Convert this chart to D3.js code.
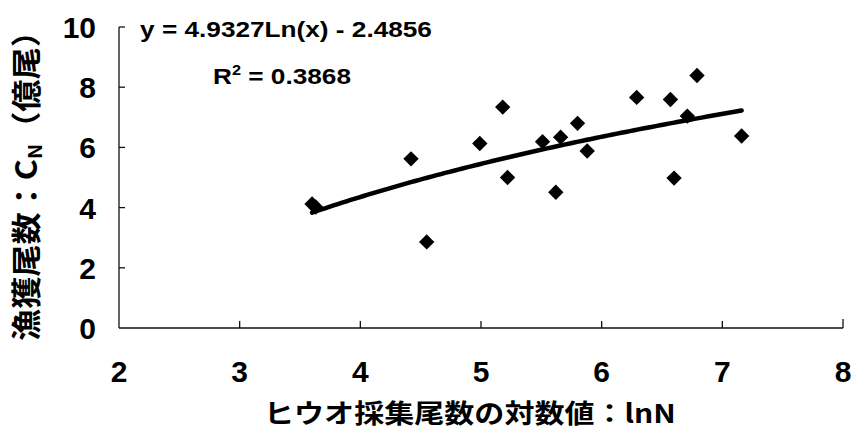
<!DOCTYPE html>
<html><head><meta charset="utf-8">
<script src="https://cdn.jsdelivr.net/npm/d3@7"></script>
<style>
html,body{margin:0;padding:0;background:#fff;}
svg{display:block;}
.num{font-family:"Liberation Sans",Arial,sans-serif;font-weight:bold;fill:#000;}
.jp{font-family:"Noto Sans CJK JP","Noto Sans",sans-serif;font-weight:bold;fill:#000;}
</style>
</head><body>
<svg id="chart" width="852" height="431"></svg>
<script>
// ---- data ----
const lnN = [3.60, 3.63, 4.42, 4.55, 4.99, 5.18, 5.22, 5.51, 5.62, 5.66, 5.80, 5.88, 6.29, 6.57, 6.60, 6.71, 6.79, 7.16];
const catch_ = [4.12, 4.02, 5.62, 2.86, 6.13, 7.34, 5.00, 6.19, 4.51, 6.34, 6.80, 5.88, 7.66, 7.59, 4.98, 7.04, 8.39, 6.38];
const xTicks = [2, 3, 4, 5, 6, 7, 8];
const yTicks = [0, 2, 4, 6, 8, 10];
const trendCoef = [4.9327, -2.4856];   // y = a*ln(x) + b
const eqText = "y = 4.9327Ln(x) - 2.4856";
const r2Text = " = 0.3868";
const xTitle = "ヒウオ採集尾数の対数値：lnN";

const svg = d3.select("#chart");
const x = d3.scaleLinear().domain([2, 8]).range([119, 843]);
const y = d3.scaleLinear().domain([0, 10]).range([328, 27]);

function fit(sel, len) {
  const w = sel.node().getComputedTextLength();
  return len / w;
}

// axes
const ax = svg.append("g").attr("stroke", "#111").attr("stroke-width", 1.3).attr("fill", "none");
ax.append("line").attr("x1", x(2)).attr("x2", x(2)).attr("y1", y(10)).attr("y2", y(0));
ax.append("line").attr("x1", x(2)).attr("x2", x(8)).attr("y1", y(0)).attr("y2", y(0));
yTicks.filter(t => t > 0).forEach(t => {
  ax.append("line").attr("x1", x(2)).attr("x2", x(2) + 6).attr("y1", y(t)).attr("y2", y(t));
});
xTicks.filter(t => t > 2).forEach(t => {
  ax.append("line").attr("x1", x(t)).attr("x2", x(t)).attr("y1", y(0)).attr("y2", y(0) - (t === 8 ? 9 : 7));
});

// tick labels
xTicks.forEach(t => {
  svg.append("text").attr("class", "num")
    .attr("x", x(t)).attr("y", 382)
    .attr("text-anchor", "middle").attr("font-size", 30).text(t);
});
yTicks.forEach(t => {
  svg.append("text").attr("class", "num")
    .attr("x", 96).attr("y", y(t) + 11)
    .attr("text-anchor", "end").attr("font-size", 30).text(t);
});

// trend line
const ext = d3.extent(lnN);
const tx = d3.range(0, 101).map(i => ext[0] + (ext[1] - ext[0]) * i / 100);
svg.append("path")
  .attr("d", d3.line().x(v => x(v)).y(v => y(trendCoef[0] * Math.log(v) + trendCoef[1]))(tx))
  .attr("fill", "none").attr("stroke", "#000").attr("stroke-width", 4.5).attr("stroke-linecap", "round");

// points
const diamond = d3.symbol().type(d3.symbolSquare).size(118)();
svg.append("g").selectAll("path").data(lnN).join("path")
  .attr("d", diamond)
  .attr("transform", (d, i) => `translate(${x(d)},${y(catch_[i])}) rotate(45)`)
  .attr("fill", "#000");

// equation
const eq = svg.append("text").attr("class", "num").attr("font-size", 22.5)
  .attr("x", 0).attr("y", 0).text(eqText);
const k1 = fit(eq, 292);
eq.attr("transform", `translate(286,37) scale(${k1},1)`).attr("text-anchor", "middle");
const r2 = svg.append("text").attr("class", "num").attr("font-size", 22.5).attr("text-anchor", "middle");
r2.append("tspan").text("R");
r2.append("tspan").attr("font-size", 14).attr("dy", -9).text("2");
r2.append("tspan").attr("dy", 9).text(r2Text);
r2.attr("transform", `translate(282,84) scale(${k1},1)`);

// x title
const xt = svg.append("text").attr("class", "jp").attr("font-size", 26).text(xTitle);
const k2 = fit(xt, 412);
xt.attr("transform", `translate(264,423) scale(${k2},1)`);

// y title
const yt = svg.append("text").attr("class", "jp").attr("font-size", 30);
yt.append("tspan").text("漁獲尾数：C");
yt.append("tspan").attr("font-size", 19).attr("dy", 5).text("N");
yt.append("tspan").attr("dy", -5).text("（億尾）");
const k3 = fit(yt, 326);
yt.attr("transform", `translate(37,341) rotate(-90) scale(${k3},1)`);
</script>
</body></html>
